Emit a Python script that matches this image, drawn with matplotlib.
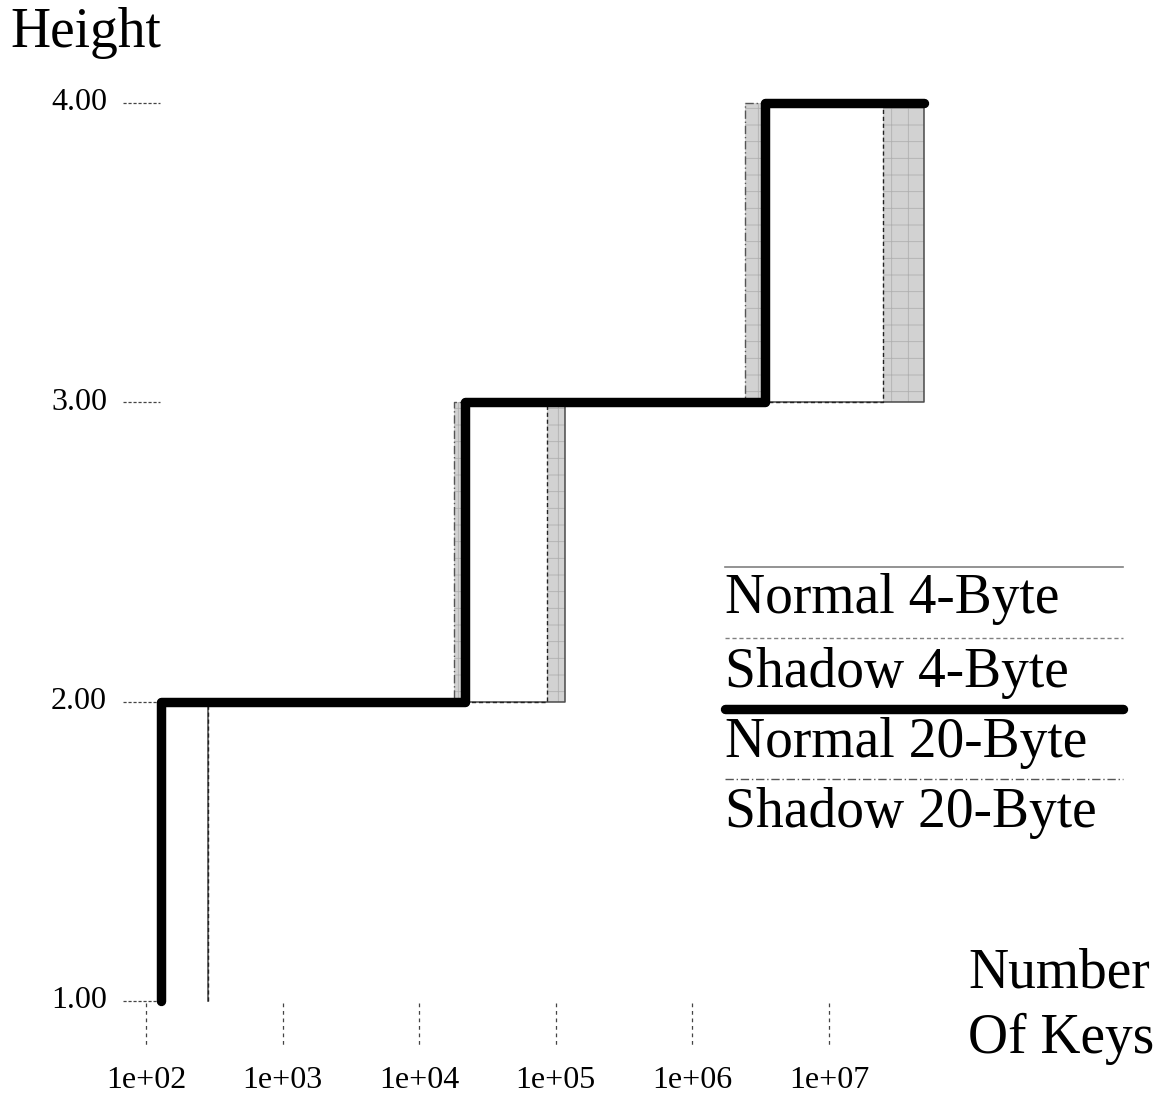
import numpy as np
import matplotlib
matplotlib.use("Agg")
import matplotlib.pyplot as plt
from matplotlib.transforms import blended_transform_factory

plt.rcParams['font.family'] = ['Liberation Serif', 'DejaVu Serif']
plt.rcParams['hatch.linewidth'] = 0.6

# Number of keys at which the tree height grows to the next level
heights = [1, 2, 3, 4]
max_keys = 4.95e7
normal_4_steps = [284, 1.17e5, 4.95e7]
shadow_4_steps = [284, 8.6e4, 2.5e7]
normal_20_steps = [128, 2.16e4, 3.4e6]
shadow_20_steps = [128, 1.8e4, 2.43e6]

x_ticks = [1e2, 1e3, 1e4, 1e5, 1e6, 1e7]
x_tick_labels = ["1e+02", "1e+03", "1e+04", "1e+05", "1e+06", "1e+07"]
y_ticks = [1.0, 2.0, 3.0, 4.0]
legend_labels = ["Normal 4-Byte", "Shadow 4-Byte", "Normal 20-Byte", "Shadow 20-Byte"]

W, H = 1171, 1097
fig = plt.figure(figsize=(W / 100, H / 100), dpi=100)
ax = fig.add_axes([0, 0, 1, 1])
ax.set_xscale('log')
ax.set_xlim(10 ** (2 - 146 / 136.6), 10 ** (2 + (W - 146) / 136.6))
ax.set_ylim(1 - (H - 1001) / 299.5, 1 + 1001 / 299.5)
ax.axis('off')


def fx(px):
    return px / W


def fy(py):
    return 1 - py / H


def step_xy(steps):
    xs = [steps[0]] + list(steps) + [max_keys]
    ys = [heights[0]] + list(heights[1:]) + [heights[-1]]
    return xs, ys


def height_at(steps, grid):
    return heights[0] + np.searchsorted(np.asarray(steps), grid, side='right')


# Shaded gap between each shadow tree and its normal counterpart
for normal, shadow in [(normal_4_steps, shadow_4_steps), (normal_20_steps, shadow_20_steps)]:
    grid = np.unique(np.concatenate([normal, shadow, [max_keys]]))
    lo = height_at(normal, grid)
    hi = height_at(shadow, grid)
    ax.fill_between(grid, lo, hi, step='post', facecolor='#d2d2d2',
                    edgecolor='#b0b0b0', hatch='+', linewidth=0, zorder=1)

x, y = step_xy(normal_4_steps)
ax.step(x, y, where='post', color='#4a4a4a', lw=1.1, zorder=2)
x, y = step_xy(shadow_4_steps)
ax.step(x, y, where='post', color='#222222', lw=1.0, linestyle=(0, (3, 2)), zorder=3)
x, y = step_xy(shadow_20_steps)
ax.step(x, y, where='post', color='#555555', lw=1.0, linestyle=(0, (6, 2, 1, 2)), zorder=3)
x, y = step_xy(normal_20_steps)
ax.step(x, y, where='post', color='black', lw=6.8, solid_capstyle='round',
        solid_joinstyle='round', zorder=4)

# Axis decorations
ty = blended_transform_factory(ax.transAxes, ax.transData)
tx = blended_transform_factory(ax.transData, ax.transAxes)
for v in y_ticks:
    ax.plot([fx(123), fx(160)], [v, v], transform=ty, color='#444444', lw=0.9,
            linestyle=(0, (2.5, 1.5)), zorder=0)
    ax.text(fx(107), v, f"{v:.2f}", transform=ty, ha='right', va='center', fontsize=23)
for v, lab in zip(x_ticks, x_tick_labels):
    ax.plot([v, v], [fy(1003), fy(1045)], transform=tx, color='#444444', lw=0.9,
            linestyle=(0, (3, 3)), zorder=0)
    ax.text(v, fy(1080), lab, transform=tx, ha='center', va='center', fontsize=23)

ax.text(fx(10), fy(47), "Height", transform=ax.transAxes, ha='left', va='baseline', fontsize=40)
ax.text(fx(968), fy(987), "Number", transform=ax.transAxes, ha='left', va='baseline', fontsize=40)
ax.text(fx(968), fy(1053), "Of Keys", transform=ax.transAxes, ha='left', va='baseline', fontsize=40)

# Legend: sample line above each label
legend_styles = [
    dict(color='#808080', lw=1.2, linestyle='-'),
    dict(color='#808080', lw=1.0, linestyle=(0, (3, 2))),
    dict(color='black', lw=6.8, linestyle='-', solid_capstyle='round'),
    dict(color='#555555', lw=1.0, linestyle=(0, (6, 2, 1, 2))),
]
line_rows = [567, 638, 709, 779]
text_rows = [613, 687, 757, 827]
for lab, st, ly, ty_ in zip(legend_labels, legend_styles, line_rows, text_rows):
    ax.plot([fx(725), fx(1123)], [fy(ly), fy(ly)], transform=ax.transAxes, **st)
    ax.text(fx(725), fy(ty_), lab, transform=ax.transAxes, ha='left', va='baseline', fontsize=40)

fig.savefig("out.png", dpi=100)
